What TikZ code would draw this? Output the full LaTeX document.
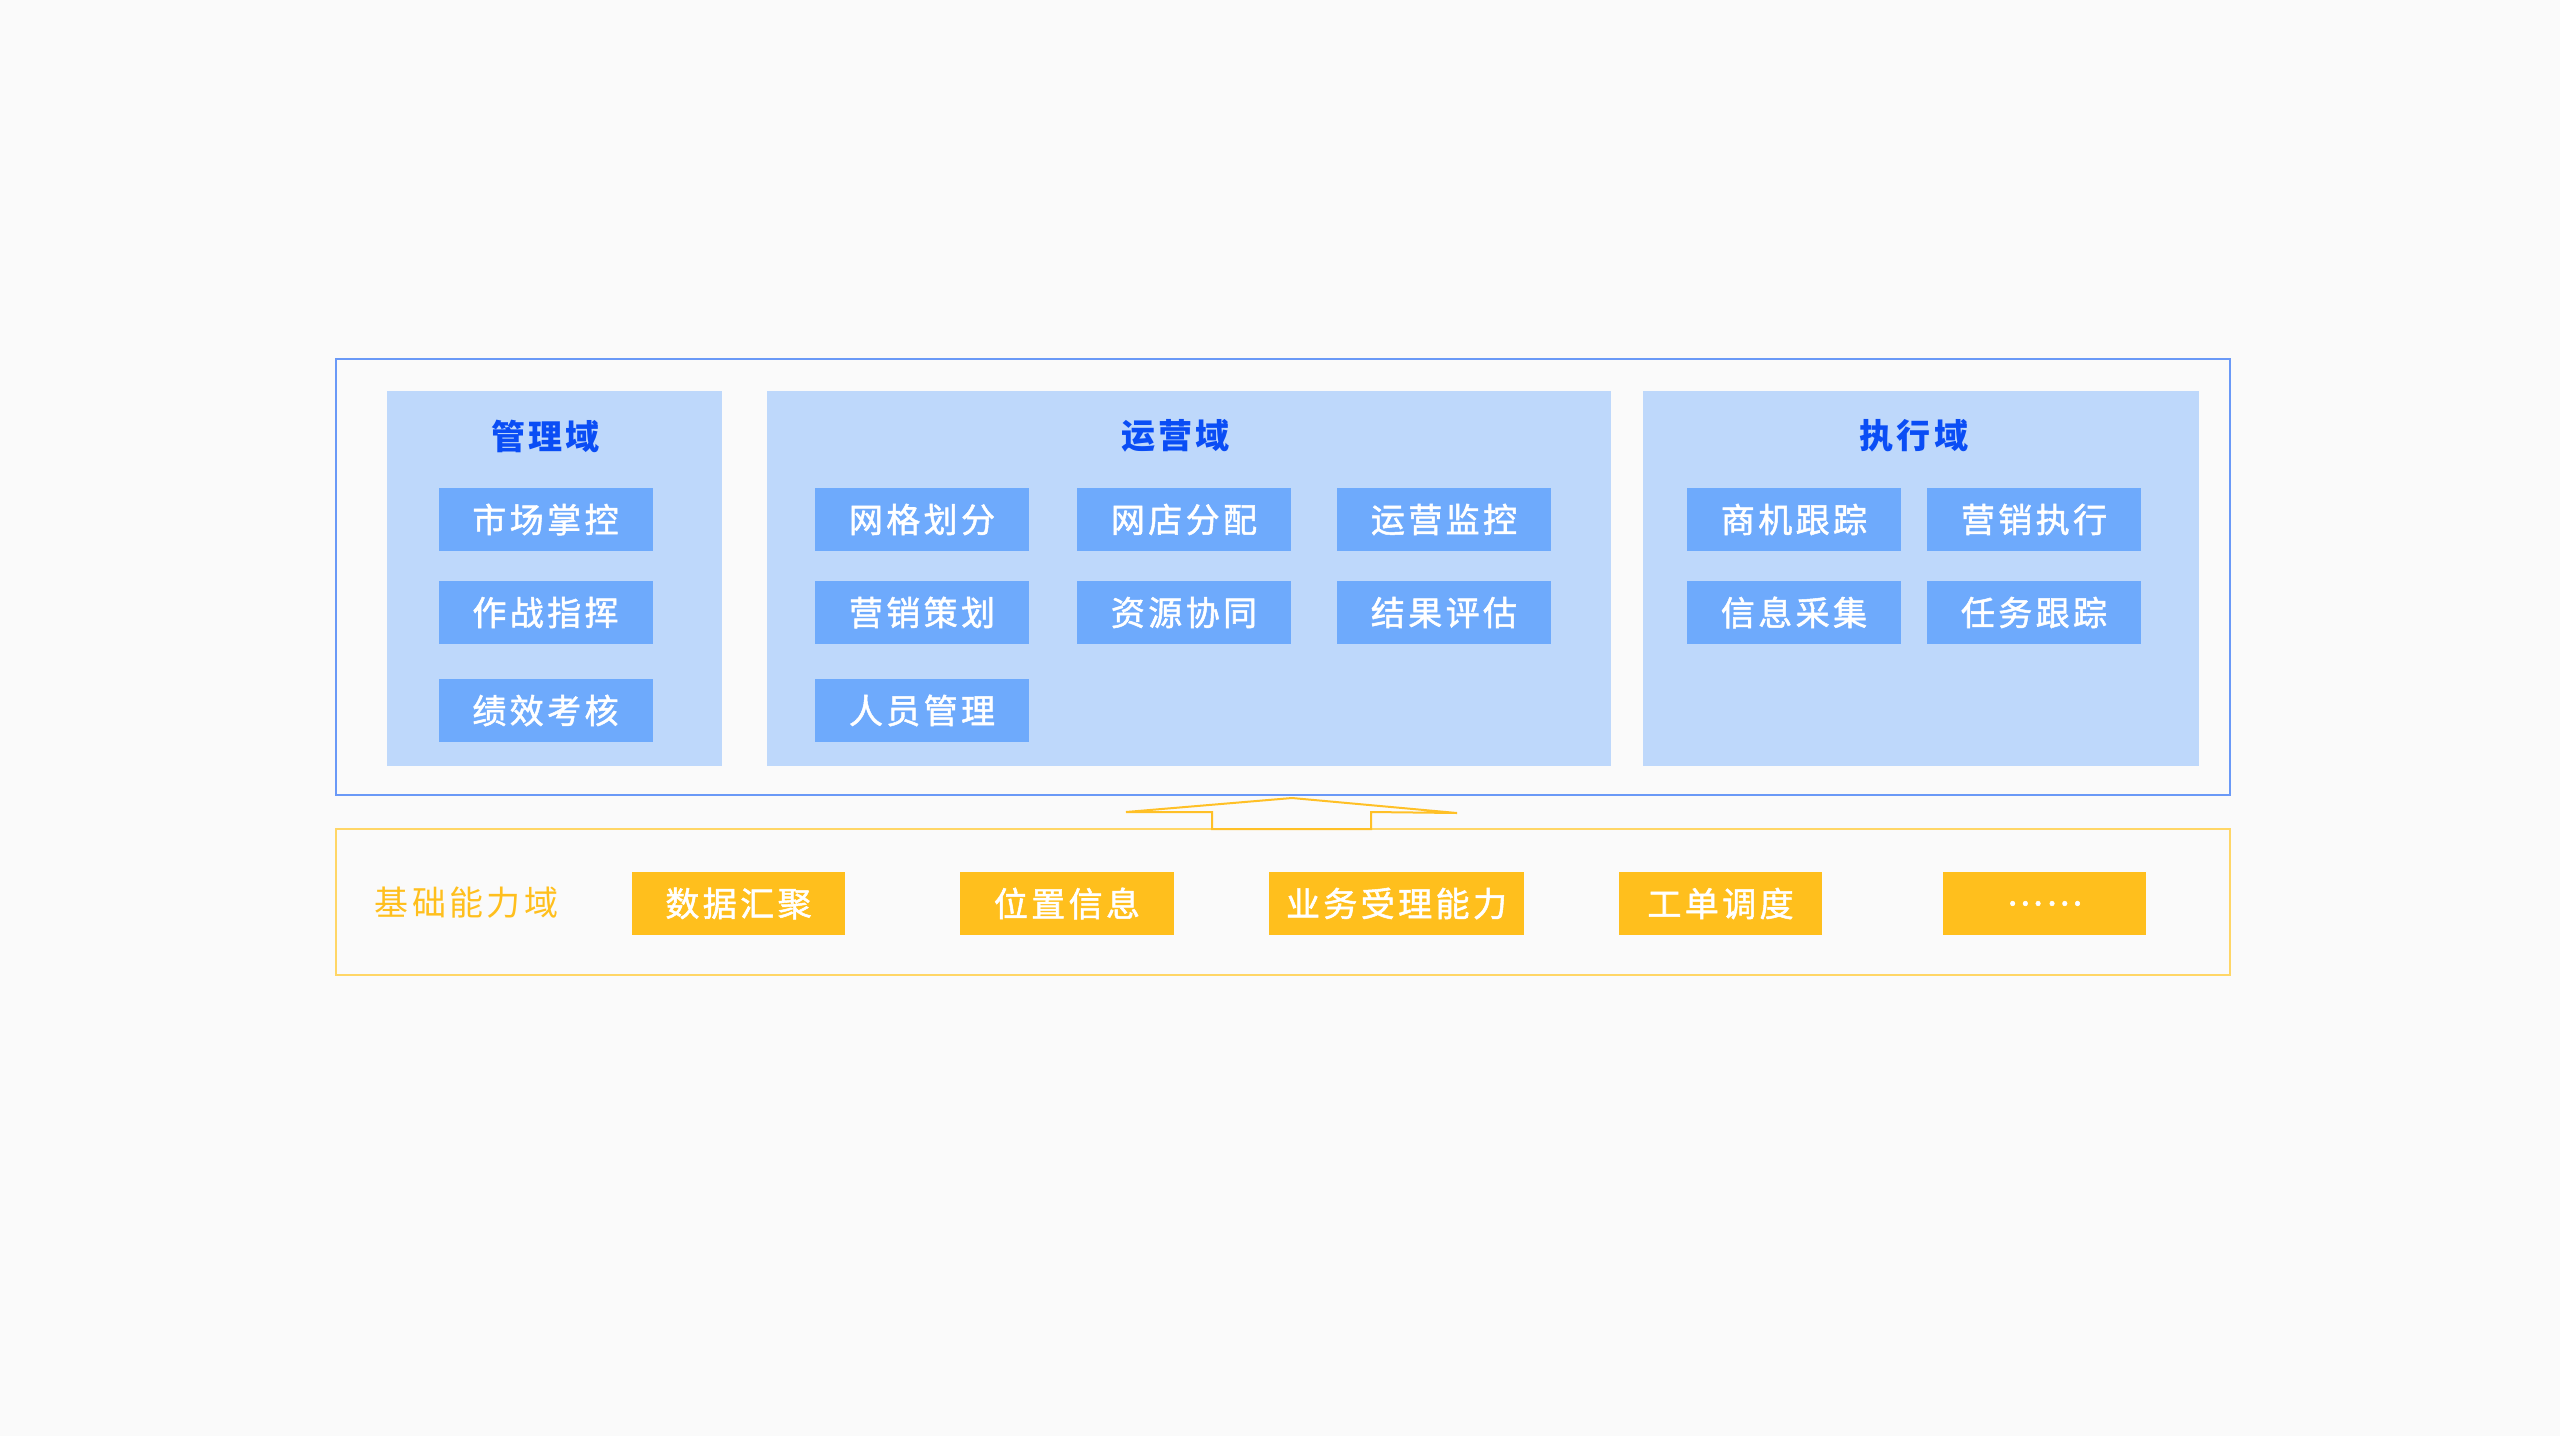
\documentclass[tikz,border=0pt]{standalone}
\usepackage{fontspec}
\newfontfamily\cjk[LetterSpace=10]{Noto Sans CJK SC}
\newfontfamily\cjkb[LetterSpace=10,FakeBold=1.5]{Noto Sans CJK SC}
\definecolor{bg}{RGB}{250,250,250}
\definecolor{frameblue}{RGB}{106,153,247}
\definecolor{panelfill}{RGB}{190,216,251}
\definecolor{boxfill}{RGB}{110,170,252}
\definecolor{titleblue}{RGB}{10,77,245}
\definecolor{yfill}{RGB}{255,191,29}
\definecolor{yframe}{RGB}{255,214,102}
\definecolor{yarrow}{RGB}{255,192,38}
\tikzset{
  panel/.style={fill=panelfill, draw=none, inner sep=0pt},
  bluebox/.style={fill=boxfill, draw=none, inner sep=0pt, minimum width=107pt, minimum height=31.5pt,
    text=white, font=\cjkb\fontsize{17}{20}\selectfont},
  ybox/.style={fill=yfill, draw=none, inner sep=0pt, minimum height=31.5pt,
    text=white, font=\cjkb\fontsize{17}{20}\selectfont},
  ptitle/.style={text=titleblue, inner sep=0pt, font=\cjk\bfseries\fontsize{17}{20}\selectfont},
  frame/.style={inner sep=0pt, line width=1pt},
}
\begin{document}
\begin{tikzpicture}[x=0.5pt,y=-0.5pt]
\fill[bg] (0,0) rectangle (2560,1436);
\useasboundingbox (0,0) rectangle (2560,1436);
% outer frames
\node[frame, draw=frameblue, minimum width=947pt, minimum height=218pt] (top) at (1283,577) {};
\node[frame, draw=yframe, minimum width=947pt, minimum height=73pt] (base) at (1283,902) {};
% panels
\node[panel, minimum width=167.5pt, minimum height=187.5pt] (p1) at (554.5,578.5) {};
\node[panel, minimum width=422pt, minimum height=187.5pt] (p2) at (1189,578.5) {};
\node[panel, minimum width=278pt, minimum height=187.5pt] (p3) at (1921,578.5) {};
% titles
\node[ptitle] (t1) at (545.5,436) {管理域};
\node[ptitle] (t2) at (1175.5,436) {运营域};
\node[ptitle] (t3) at (1914,436) {执行域};
% panel 1
\node[bluebox] (a1) at (545.5,519.5) {市场掌控};
\node[bluebox] (a2) at (545.5,612.5) {作战指挥};
\node[bluebox] (a3) at (545.5,710.5) {绩效考核};
% panel 2
\node[bluebox] (b1) at (922,519.5) {网格划分};
\node[bluebox] (b2) at (1184,519.5) {网店分配};
\node[bluebox] (b3) at (1444,519.5) {运营监控};
\node[bluebox] (b4) at (922,612.5) {营销策划};
\node[bluebox] (b5) at (1184,612.5) {资源协同};
\node[bluebox] (b6) at (1444,612.5) {结果评估};
\node[bluebox] (b7) at (922,710.5) {人员管理};
% panel 3
\node[bluebox] (c1) at (1794,519.5) {商机跟踪};
\node[bluebox] (c2) at (2034,519.5) {营销执行};
\node[bluebox] (c3) at (1794,612.5) {信息采集};
\node[bluebox] (c4) at (2034,612.5) {任务跟踪};
% base row
\node[inner sep=0pt, text=yfill, font=\cjk\fontsize{17}{20}\selectfont] (bt) at (466.5,903) {基础能力域};
\node[ybox, minimum width=106.5pt] (y1) at (738.5,903.5) {数据汇聚};
\node[ybox, minimum width=107pt] (y2) at (1067,903.5) {位置信息};
\node[ybox, minimum width=127.5pt] (y3) at (1396.5,903.5) {业务受理能力};
\node[ybox, minimum width=101.5pt] (y4) at (1720.5,903.5) {工单调度};
\node[ybox, minimum width=101.5pt] (y5) at (2044.5,903.5) {……};
% block arrow from base to top
\coordinate (arrL) at (1212,829);
\coordinate (arrR) at (1371,829);
\draw[yarrow, line width=1pt] (arrL) -- (1212,812) -- (1126,812) -- (1292,798) -- (1457,813) -- (1371,812) -- (arrR) -- cycle;
\end{tikzpicture}
\end{document}
